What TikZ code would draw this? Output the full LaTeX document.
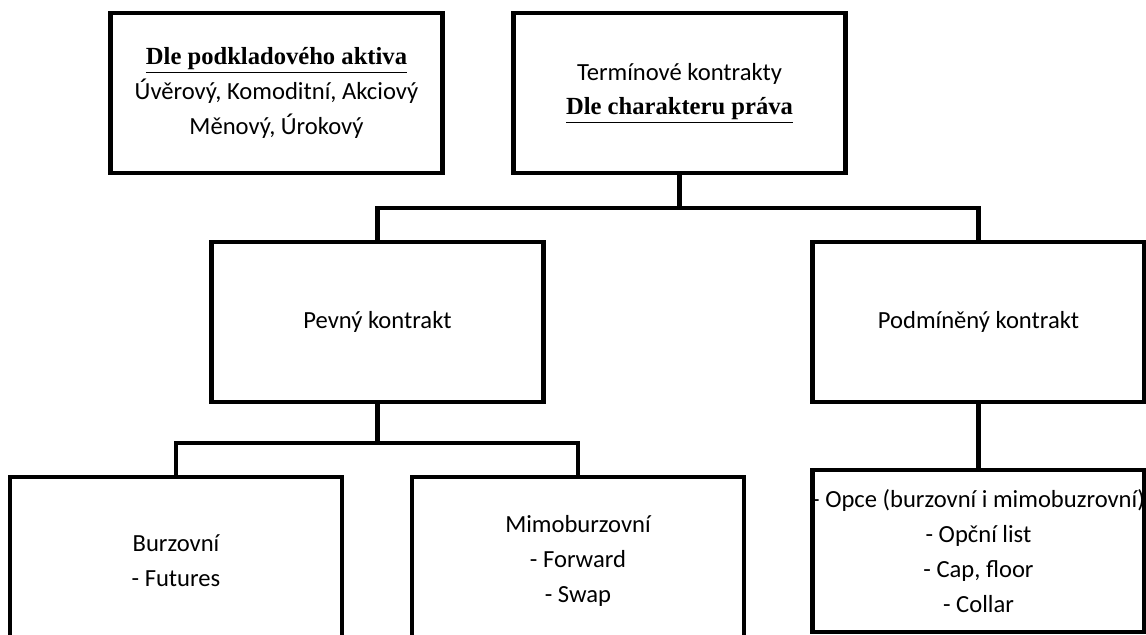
\documentclass[tikz,border=0pt]{standalone}
\usepackage{fontspec}
\setmainfont{Carlito}
\newfontfamily\serifbold{Liberation Serif}
\usepackage{tikz}

\newcommand{\hlavicka}[1]{{\serifbold\bfseries\underline{#1}}}

\begin{document}
\begin{tikzpicture}[x=0.025cm,y=-0.025cm,
  kontrakt/.style={draw,line width=3.2pt,minimum width=8.3cm,minimum height=4cm,align=center,inner sep=0pt,font=\fontsize{17.5}{24.8}\selectfont},
  spoj/.style={line width=3.2pt}]
\path[use as bounding box,clip] (0,0) rectangle (1146,635);
\node[kontrakt] (podklad) at (276.5,93) {\hlavicka{Dle podkladového aktiva}\\Úvěrový, Komoditní, Akciový\\Měnový, Úrokový};
\node[kontrakt] (terminove) at (679.5,93) {Termínové kontrakty\\\hlavicka{Dle charakteru práva}};
\node[kontrakt] (pevny) at (377.5,322) {Pevný kontrakt};
\node[kontrakt] (podmineny) at (978.5,322) {Podmíněný kontrakt};
\node[kontrakt,minimum height=4.2cm] (burzovni) at (176,561) {Burzovní\\- Futures};
\node[kontrakt,minimum height=4.2cm] (mimoburzovni) at (578,561) {Mimoburzovní\\- Forward\\- Swap};
\node[kontrakt,minimum height=4.05cm] (opce) at (978.5,551) {\makebox[7cm]{- Opce (burzovní i mimobuzrovní)}\\- Opční list\\- Cap, floor\\- Collar};
\coordinate (rozvetveni1) at (0,208);
\coordinate (rozvetveni2) at (0,443);
\draw[spoj] (terminove.south) -- (terminove.south |- rozvetveni1);
\draw[spoj] (pevny.north) -- (pevny.north |- rozvetveni1) -- (podmineny.north |- rozvetveni1) -- (podmineny.north);
\draw[spoj] (pevny.south) -- (pevny.south |- rozvetveni2);
\draw[spoj] (burzovni.north) -- (burzovni.north |- rozvetveni2) -- (mimoburzovni.north |- rozvetveni2) -- (mimoburzovni.north);
\draw[spoj] (podmineny.south) -- (opce.north);
\end{tikzpicture}
\end{document}
